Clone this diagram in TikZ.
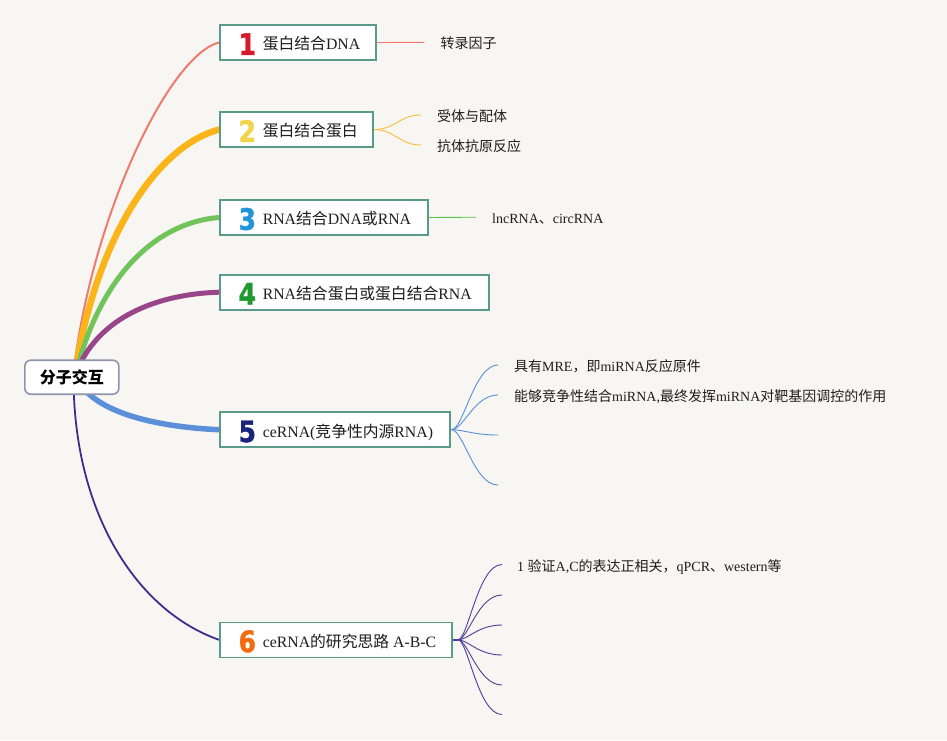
\documentclass[tikz,border=0pt]{standalone}
\usepackage{fontspec}
\setmainfont{Liberation Serif}
\newfontfamily\cjkf{Noto Sans CJK SC}
\newfontfamily\numf{DejaVu Sans}[BoldFeatures={FakeBold=1.4}]
\usetikzlibrary{calc}
\pgfdeclarelayer{bglayer}
\pgfdeclarelayer{edgelayer}
\pgfsetlayers{bglayer,edgelayer,main}
\newcommand\zhs[1]{{\cjkf #1}}
\newcommand\numlab[2]{\raisebox{-5pt}{\scalebox{0.85}[1]{\color{#1}\numf\bfseries\fontsize{29.5}{29.5}\selectfont #2}}}
\newcommand\boxtext[4]{\makebox[#1pt][l]{\hspace{19pt}\makebox[17pt]{\numlab{#2}{#3}}\hspace{7pt}#4}}
\definecolor{bgc}{HTML}{F7F6F3}
\definecolor{boxc}{HTML}{5A9A8A}
\definecolor{rootc}{HTML}{8E95AA}
\definecolor{textc}{HTML}{1E1E1E}
\definecolor{nA}{HTML}{D7192C}
\definecolor{nB}{HTML}{F3D34A}
\definecolor{nC}{HTML}{1E96D8}
\definecolor{nD}{HTML}{1E9A2E}
\definecolor{nE}{HTML}{1A237E}
\definecolor{nF}{HTML}{F26B0F}
\definecolor{eA}{HTML}{F07A6E}
\definecolor{eB}{HTML}{FBB41A}
\definecolor{eC}{HTML}{71C45A}
\definecolor{eD}{HTML}{9A4589}
\definecolor{eE}{HTML}{5B8FD9}
\definecolor{eF}{HTML}{3D2E8C}
\definecolor{sB}{HTML}{F8BE3C}
\definecolor{sC}{HTML}{5DBE48}
\definecolor{sF}{HTML}{4E3D9A}
\tikzset{
  mainbox/.style={draw=boxc, line width=1.6pt, fill=white, inner sep=0pt,
    text height=24.8pt, text depth=10.2pt, anchor=west, text=textc,
    font=\fontsize{15.8}{18}\selectfont},
  rootbox/.style={draw=rootc, line width=1.6pt, fill=white, rounded corners=6pt,
    minimum width=94pt, minimum height=34pt, inner sep=0pt, text=black,
    font=\fontsize{16}{18}\selectfont},
  leaf/.style={anchor=base west, inner sep=0pt, text=textc,
    font=\fontsize{14}{16}\selectfont},
  branch/.style={line cap=round},
  sub/.style={line width=0.9pt}
}
\begin{document}
\begin{tikzpicture}[x=1pt,y=-1pt]
\begin{pgfonlayer}{bglayer}
\fill[bgc] (0,0) rectangle (947,740);
\end{pgfonlayer}
\useasboundingbox (0,0) rectangle (947,740);

\node[rootbox] (root) at (71.8,377.2) {\zhs{\bfseries 分子交互}};

\node[mainbox] (b1) at (219,42.5) {\boxtext{156}{nA}{1}{\zhs{蛋白结合}DNA}};
\node[mainbox] (b2) at (219,129.6) {\boxtext{153}{nB}{2}{\zhs{蛋白结合蛋白}}};
\node[mainbox] (b3) at (219,217.5) {\boxtext{208}{nC}{3}{RNA\zhs{结合}DNA\zhs{或}RNA}};
\node[mainbox] (b4) at (219,292.2) {\boxtext{269}{nD}{4}{RNA\zhs{结合蛋白或蛋白结合}RNA}};
\node[mainbox] (b5) at (219,429.7) {\boxtext{230}{nE}{5}{ceRNA(\zhs{竞争性内源}RNA)}};
\node[mainbox] (b6) at (219,639.8) {\boxtext{232}{nF}{6}{ceRNA\zhs{的研究思路} A-B-C}};

% leaves
\node[leaf] (t1) at (440.5,48.3) {\zhs{转录因子}};
\node[leaf] (t2a) at (437,121.3) {\zhs{受体与配体}};
\node[leaf] (t2b) at (437,151.3) {\zhs{抗体抗原反应}};
\node[leaf] (t3) at (492,223.3) {lncRNA\zhs{、}circRNA};
\node[leaf] (t5a) at (514,371.5) {\zhs{具有}MRE\zhs{，即}miRNA\zhs{反应原件}};
\node[leaf] (t5b) at (514,401.5) {\zhs{能够竞争性结合}miRNA,\zhs{最终发挥}miRNA\zhs{对靶基因调控的作用}};
\node[leaf] (t6a) at (517,571.5) {1 \zhs{验证}A,C\zhs{的表达正相关，}qPCR\zhs{、}western\zhs{等}};

\coordinate (e1) at (424,42.3);
\coordinate (e2a) at (421,115);
\coordinate (e2b) at (421,145);
\coordinate (e3) at (476,217.2);
\coordinate (j5) at (451.5,429.7);
\coordinate (e5a) at (498,365);
\coordinate (e5b) at (498,395);
\coordinate (e5c) at (498,435);
\coordinate (e5d) at (498,485);
\coordinate (j6) at (458,639.8);
\coordinate (e6a) at (502,564.5);
\coordinate (e6b) at (502,595);
\coordinate (e6c) at (502,625);
\coordinate (e6d) at (502,655);
\coordinate (e6e) at (502,685);
\coordinate (e6f) at (502,714.5);

\begin{pgfonlayer}{edgelayer}
% main branches
\draw[branch, eA, line width=2pt] ([shift={(3,3)}]root.north) .. controls (95,210) and (170,55) .. (b1.west);
\draw[branch, eB, line width=6.5pt] ([shift={(5,3)}]root.north) .. controls (100,230) and (160,145) .. (b2.west);
\draw[branch, eC, line width=5pt] ([shift={(7,3)}]root.north) .. controls (105,270) and (160,222) .. (b3.west);
\draw[branch, eD, line width=5pt] ([shift={(9,3)}]root.north) .. controls (105,315) and (160,294) .. (b4.west);
\draw[branch, eE, line width=5.5pt] ([shift={(15,-3)}]root.south) .. controls (110,415) and (160,427) .. (b5.west);
\draw[branch, eF, line width=1.8pt] ([shift={(2,-3)}]root.south) .. controls (78,520) and (140,612) .. (b6.west);

% sub branches
\draw[sub, eA] (b1.east) -- (e1);
\draw[sub, sB] (b2.east) .. controls ($(b2.east)+(22,0)$) and ($(e2a)+(-22,0)$) .. (e2a);
\draw[sub, sB] (b2.east) .. controls ($(b2.east)+(22,0)$) and ($(e2b)+(-22,0)$) .. (e2b);
\draw[sub, sC] (b3.east) -- (e3);
\draw[sub, eE] (b5.east) -- (j5);
\foreach \e in {e5a,e5b,e5c,e5d}{
  \draw[sub, eE] (j5) .. controls ($(j5)+(12,0)$) and ($(\e)+(-24,0)$) .. (\e);
}
\draw[sF, line width=2pt] (b6.east) -- (j6);
\foreach \e in {e6a,e6b,e6c,e6d,e6e,e6f}{
  \draw[sub, sF] (j6) .. controls ($(j6)+(10,0)$) and ($(\e)+(-24,0)$) .. (\e);
}
\end{pgfonlayer}
\end{tikzpicture}
\end{document}
